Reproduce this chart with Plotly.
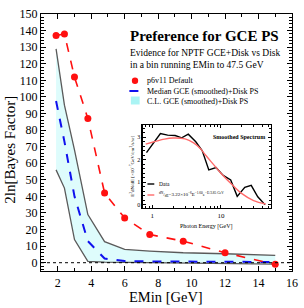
import plotly.graph_objects as go

# ---- main chart data ----
emin = [1.9, 2.4, 3.0, 3.8, 4.8, 6.0, 7.5, 9.5, 12.0, 15.0]
default_bf = [137, 138, 112, 87, 42, 27, 17, 13, 6, -1]
median_bf = [97.5, 73, 40, 13, 2.5, 1.0, 0.8, 0.6, 0.5, 0.4]
cl_upper = [129, 95, 68, 29, 12.7, 8, 7, 6, 5.4, 4.4]
cl_lower = [56, 45, 14, 0.8, 0.3, 0.2, 0.0, 0.0, -0.3, -0.8]
x_ticks = [2, 4, 6, 8, 10, 12, 14, 16]

# ---- inset data ----
spec_e = [0.82, 1.31, 1.67, 2.15, 2.68, 3.34, 4.3, 5.35, 6.66, 8.5, 10.8, 13.9, 17.3, 22.3, 27.7, 34.5, 44]
spec_v = [2.32, 3.17, 3.1, 3.08, 2.98, 3.14, 2.8, 2.4, 1.55, 1.65, 1.3, 1.1, 0.37, 0.77, 0.86, 0.35, 0.0]
fit_e = [0.8, 1.0, 1.5, 2.0, 3.0, 4.0, 5.0, 6.0, 8.0, 10.0, 15.0, 20.0, 30.0, 45.0]
fit_v = [2.7, 2.78, 2.92, 2.97, 2.93, 2.75, 2.5, 2.2, 1.75, 1.4, 0.85, 0.5, 0.18, 0.03]

W, H = 304, 308
L, R, T, B = 41, 298, 14, 271
PW, PH = R - L, B - T


def px(x):
    return (x - L) / PW


def py(y):
    return (B - y) / PH


SERIF = "Liberation Serif"
fig = go.Figure()

fig.add_trace(go.Scatter(x=emin, y=cl_lower, mode="lines",
                         line=dict(color="#5a5a5a", width=1.3), showlegend=False))
fig.add_trace(go.Scatter(x=emin, y=cl_upper, mode="lines", fill="tonexty",
                         fillcolor="rgba(200,250,250,0.6)",
                         line=dict(color="#5a5a5a", width=1.3), showlegend=False))
fig.add_trace(go.Scatter(x=emin, y=median_bf, mode="lines",
                         line=dict(color="#1010ee", width=2, dash="dash"), showlegend=False))
fig.add_trace(go.Scatter(x=emin, y=default_bf, mode="lines+markers",
                         line=dict(color="#ff1010", width=1.6, dash="dash"),
                         marker=dict(color="#ff1010", size=7), showlegend=False))

# inset
fig.add_trace(go.Scatter(x=spec_e, y=spec_v, mode="lines", xaxis="x2", yaxis="y2",
                         line=dict(color="black", width=1.4), showlegend=False))
fig.add_trace(go.Scatter(x=fit_e, y=fit_v, mode="lines", xaxis="x2", yaxis="y2",
                         line=dict(color="#ff6a6a", width=1.4, shape="spline"), showlegend=False))

ax_common = dict(showline=True, linecolor="black", linewidth=1.2, mirror="allticks",
                 ticks="inside", tickcolor="black", showgrid=False, zeroline=False)

ix0, ix1, iy0, iy1 = 145, 276, 208, 125

fig.update_layout(
    width=W, height=H,
    margin=dict(l=L, r=W - R, t=T, b=H - B),
    plot_bgcolor="white", paper_bgcolor="white",
    font=dict(family=SERIF, color="black"),
    xaxis=dict(range=[0.999, 16.001], tickmode="array", tickvals=x_ticks, ticklen=5,
               ticklabeloverflow="allow",
               minor=dict(ticks="inside", ticklen=3, dtick=1, tick0=0, tickcolor="black"),
               tickfont=dict(size=12), **ax_common),
    yaxis=dict(range=[-5, 150.001], dtick=10, tick0=0, ticklen=5,
               minor=dict(ticks="inside", ticklen=3, dtick=2, tickcolor="black"),
               tickfont=dict(size=12), **ax_common),
    xaxis2=dict(type="log", range=[-0.143, 1.724], domain=[px(ix0), px(ix1)], anchor="y2",
                tickvals=[1, 10], ticklen=3, tickfont=dict(size=7),
                minor=dict(ticks="inside", ticklen=2, tickcolor="black",
                           tickvals=[0.8, 0.9, 2, 3, 4, 5, 6, 7, 8, 9, 20, 30, 40, 50]),
                **ax_common),
    yaxis2=dict(range=[-0.15, 3.55], domain=[py(iy0), py(iy1)], anchor="x2",
                tickvals=[0, 1, 2, 3], ticklen=3, tickfont=dict(size=6),
                minor=dict(ticks="inside", ticklen=2, dtick=0.2, tickcolor="black"),
                **ax_common),
)

# zero reference line
fig.add_shape(type="line", xref="paper", yref="y", x0=0, x1=1, y0=0, y1=0,
              line=dict(color="black", width=1, dash="dot"))

ann = []


def text(x, y, s, size, xanchor="center", bold=False, angle=0):
    if bold:
        s = "<b>" + s + "</b>"
    ann.append(dict(x=px(x), y=py(y), xref="paper", yref="paper", text=s, showarrow=False,
                    xanchor=xanchor, yanchor="middle", textangle=angle,
                    font=dict(family=SERIF, size=size, color="black")))


text(169, 297, "EMin [GeV]", 14.5)
text(9, 150, "2ln[Bayes Factor]", 15, angle=-90)
text(208, 36, "Preference for GCE PS", 15, bold=True)
text(130, 53, "Evidence for NPTF GCE+Disk vs Disk", 9.5, xanchor="left")
text(130, 65, "in a bin running EMin to 47.5 GeV", 9.5, xanchor="left")
text(147, 81, "p6v11 Default", 8, xanchor="left")
text(147, 91, "Median GCE (smoothed)+Disk PS", 8, xanchor="left")
text(147, 101, "C.L. GCE (smoothed)+Disk PS", 8, xanchor="left")

# legend symbols
fig.add_shape(type="circle", xref="paper", yref="paper",
              x0=px(134), x1=px(140.5), y0=py(84), y1=py(77.5),
              fillcolor="#ff1010", line=dict(width=0))
fig.add_shape(type="line", xref="paper", yref="paper",
              x0=px(131.5), x1=px(146), y0=py(91), y1=py(91),
              line=dict(color="#1010ee", width=2, dash="dash"))
fig.add_shape(type="rect", xref="paper", yref="paper",
              x0=px(133), x1=px(142), y0=py(104.5), y1=py(96.5),
              fillcolor="#aaf4f4", line=dict(width=0))

# inset texts
text(272, 137, "Smoothed Spectrum", 6, bold=True, xanchor="right")
text(210, 227, "Photon Energy [GeV]", 6)
text(134, 166, "E<sup>2</sup>dN/dE [×10<sup>−7</sup>GeV/cm<sup>2</sup>/s/sr]", 5, angle=-90)
text(159.5, 184, "Data", 5.5, xanchor="left")
text(159.5, 195, "<sup>dN</sup>/<sub>dE</sub>=3.22×10<sup>−6</sup>E<sup>−1.60</sup>e<sup>−E/3.85 GeV</sup>",
     5, xanchor="left")
fig.add_shape(type="line", xref="paper", yref="paper",
              x0=px(150), x1=px(157), y0=py(184), y1=py(184),
              line=dict(color="black", width=1.4))
fig.add_shape(type="line", xref="paper", yref="paper",
              x0=px(150), x1=px(157), y0=py(195), y1=py(195),
              line=dict(color="#ff6a6a", width=1.4))

fig.update_layout(annotations=ann)
fig.write_html("out.html", config={"displayModeBar": False, "staticPlot": True},
               post_script="document.body.style.margin='0';document.body.style.overflow='hidden';")
